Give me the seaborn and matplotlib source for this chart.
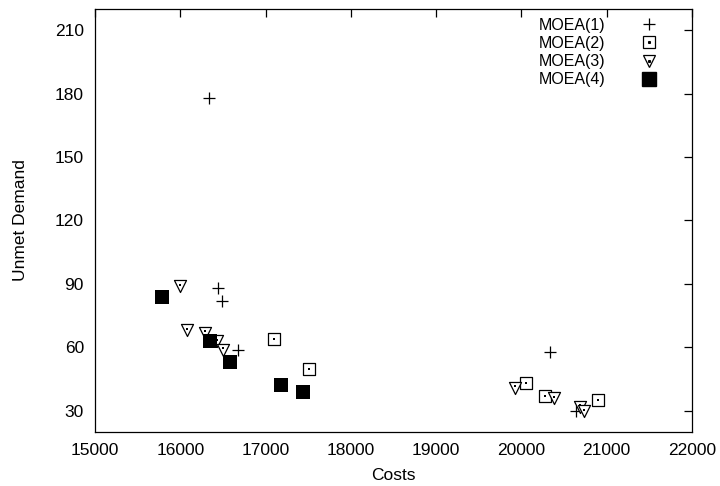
import numpy as np
import pandas as pd
import matplotlib
matplotlib.use("Agg")
import matplotlib.pyplot as plt
from matplotlib.legend_handler import HandlerTuple
from matplotlib.lines import Line2D
import seaborn as sns

# Pareto solutions of four MOEA runs: (cost, unmet demand)
moea1_cost = [16340, 16445, 16490, 16680, 20330, 20640]
moea1_unmet = [178, 88, 82, 59, 58, 30]

moea2_cost = [17100, 17510, 20050, 20280, 20900]
moea2_unmet = [64, 50, 43, 37, 35]

moea3_cost = [15995, 16075, 16290, 16430, 16500, 19925, 20385, 20690, 20735]
moea3_unmet = [89, 68, 67, 63, 59, 41, 36, 32, 30]

moea4_cost = [15785, 16345, 16585, 17180, 17440]
moea4_unmet = [84, 63, 53, 42, 39]

series_names = ["MOEA(1)", "MOEA(2)", "MOEA(3)", "MOEA(4)"]

x_ticks = [15000, 16000, 17000, 18000, 19000, 20000, 21000, 22000]
y_ticks = [30, 60, 90, 120, 150, 180, 210]

frames = []
for name, cx, cy in zip(series_names,
                        [moea1_cost, moea2_cost, moea3_cost, moea4_cost],
                        [moea1_unmet, moea2_unmet, moea3_unmet, moea4_unmet]):
    frames.append(pd.DataFrame({"Costs": cx, "Unmet Demand": cy, "run": name}))
df = pd.concat(frames, ignore_index=True)

sns.set_style("white")
plt.rcParams["font.family"] = ["Liberation Sans", "DejaVu Sans"]
plt.rcParams["axes.linewidth"] = 0.9
plt.rcParams["text.color"] = "black"
plt.rcParams["axes.labelcolor"] = "black"
plt.rcParams["xtick.color"] = "black"
plt.rcParams["ytick.color"] = "black"

fig = plt.figure(figsize=(7.2, 4.86), dpi=100)
ax = fig.add_axes([95 / 720, 1 - 432 / 486, (692 - 95) / 720, (432 - 9) / 486])

# marker styles in the spirit of gnuplot point types
styles = {
    "MOEA(1)": dict(marker="+", s=80, color="black", linewidth=0.9),
    "MOEA(2)": dict(marker="s", s=70, facecolor="white", edgecolor="black", linewidth=0.9),
    "MOEA(3)": dict(marker="v", s=75, facecolor="white", edgecolor="black", linewidth=0.9),
    "MOEA(4)": dict(marker="s", s=105, color="black", linewidth=0),
}

for name in series_names:
    sub = df[df["run"] == name]
    sns.scatterplot(data=sub, x="Costs", y="Unmet Demand", ax=ax, legend=False,
                    zorder=3, **styles[name])
    if name in ("MOEA(2)", "MOEA(3)"):
        # small centre dot of the open symbols
        dy = 0.6 if name == "MOEA(3)" else 0.0
        ax.scatter(sub["Costs"], sub["Unmet Demand"] + dy, marker="s", s=1.2,
                   color="black", linewidth=0, zorder=4)

ax.set_xlim(15000, 22000)
ax.set_ylim(20, 220)
ax.set_xticks(x_ticks)
ax.set_yticks(y_ticks)
ax.tick_params(direction="in", length=6, width=0.9, top=True, right=True,
               labelsize=12.5, pad=8, colors="black")
for sp in ax.spines.values():
    sp.set_visible(True)
    sp.set_color("black")

ax.set_xlabel("Costs", fontsize=12.5, labelpad=7)
ax.set_ylabel("Unmet Demand", fontsize=12.5, labelpad=19)

# legend: label first, symbol to the right
dot = dict(linestyle="none", marker="s", markersize=1.2, color="black")
handles = [
    Line2D([], [], linestyle="none", marker="+", markersize=9, color="black", markeredgewidth=0.9),
    (Line2D([], [], linestyle="none", marker="s", markersize=8.3, markerfacecolor="white",
            markeredgecolor="black", markeredgewidth=0.9), Line2D([], [], **dot)),
    (Line2D([], [], linestyle="none", marker="v", markersize=8.5, markerfacecolor="white",
            markeredgecolor="black", markeredgewidth=0.9), Line2D([], [], **dot)),
    Line2D([], [], linestyle="none", marker="s", markersize=9.5, color="black"),
]
ax.legend(handles, series_names, loc="upper right", bbox_to_anchor=(0.972, 1.013),
          frameon=False, markerfirst=False, fontsize=11.5, handlelength=1.5,
          handletextpad=2.0, labelspacing=0.2,
          handler_map={tuple: HandlerTuple(ndivide=1, pad=0)})

fig.savefig("out.png", dpi=100)
